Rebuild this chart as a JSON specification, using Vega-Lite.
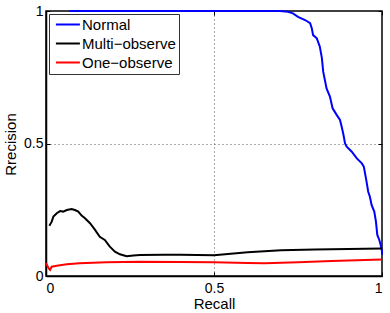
{
  "$schema": "https://vega.github.io/schema/vega-lite/v6.json",
  "autosize": "none",
  "width": 336,
  "height": 265,
  "padding": {"left": 46, "top": 11, "right": 8, "bottom": 37},
  "background": "white",
  "config": {
    "font": "Liberation Sans",
    "view": {"stroke": "black", "strokeWidth": 1.5},
    "axis": {"labelFont": "Liberation Sans", "titleFont": "Liberation Sans", "labelColor": "black", "titleColor": "black", "titleFontWeight": "normal", "domainColor": "black", "tickColor": "black"}
  },
  "data": {"values": [
    {"s":"Normal","i":0,"r":0.07,"p":1},{"s":"Normal","i":1,"r":0.696,"p":1},{"s":"Normal","i":2,"r":0.72,"p":0.997},{"s":"Normal","i":3,"r":0.735,"p":0.991},{"s":"Normal","i":4,"r":0.75,"p":0.978},{"s":"Normal","i":5,"r":0.771,"p":0.966},{"s":"Normal","i":6,"r":0.786,"p":0.954},{"s":"Normal","i":7,"r":0.791,"p":0.935},{"s":"Normal","i":8,"r":0.795,"p":0.909},{"s":"Normal","i":9,"r":0.806,"p":0.897},{"s":"Normal","i":10,"r":0.815,"p":0.865},{"s":"Normal","i":11,"r":0.821,"p":0.823},{"s":"Normal","i":12,"r":0.825,"p":0.771},{"s":"Normal","i":13,"r":0.835,"p":0.708},{"s":"Normal","i":14,"r":0.845,"p":0.677},{"s":"Normal","i":15,"r":0.853,"p":0.633},{"s":"Normal","i":16,"r":0.865,"p":0.608},{"s":"Normal","i":17,"r":0.875,"p":0.589},{"s":"Normal","i":18,"r":0.88,"p":0.563},{"s":"Normal","i":19,"r":0.885,"p":0.535},{"s":"Normal","i":20,"r":0.89,"p":0.5},{"s":"Normal","i":21,"r":0.895,"p":0.488},{"s":"Normal","i":22,"r":0.91,"p":0.469},{"s":"Normal","i":23,"r":0.925,"p":0.444},{"s":"Normal","i":24,"r":0.94,"p":0.425},{"s":"Normal","i":25,"r":0.946,"p":0.412},{"s":"Normal","i":26,"r":0.954,"p":0.356},{"s":"Normal","i":27,"r":0.959,"p":0.318},{"s":"Normal","i":28,"r":0.964,"p":0.299},{"s":"Normal","i":29,"r":0.969,"p":0.268},{"s":"Normal","i":30,"r":0.977,"p":0.243},{"s":"Normal","i":31,"r":0.982,"p":0.205},{"s":"Normal","i":32,"r":0.986,"p":0.155},{"s":"Normal","i":33,"r":0.992,"p":0.136},{"s":"Normal","i":34,"r":0.996,"p":0.117},{"s":"Normal","i":35,"r":1.0,"p":0.092},{"s":"Normal","i":36,"r":1.0,"p":0.08},
    {"s":"Multi−observe","i":0,"r":0.01,"p":0.19},{"s":"Multi−observe","i":1,"r":0.017,"p":0.205},{"s":"Multi−observe","i":2,"r":0.022,"p":0.224},{"s":"Multi−observe","i":3,"r":0.032,"p":0.237},{"s":"Multi−observe","i":4,"r":0.042,"p":0.245},{"s":"Multi−observe","i":5,"r":0.051,"p":0.243},{"s":"Multi−observe","i":6,"r":0.062,"p":0.249},{"s":"Multi−observe","i":7,"r":0.076,"p":0.253},{"s":"Multi−observe","i":8,"r":0.086,"p":0.249},{"s":"Multi−observe","i":9,"r":0.096,"p":0.243},{"s":"Multi−observe","i":10,"r":0.106,"p":0.228},{"s":"Multi−observe","i":11,"r":0.116,"p":0.218},{"s":"Multi−observe","i":12,"r":0.131,"p":0.199},{"s":"Multi−observe","i":13,"r":0.146,"p":0.174},{"s":"Multi−observe","i":14,"r":0.16,"p":0.148},{"s":"Multi−observe","i":15,"r":0.175,"p":0.136},{"s":"Multi−observe","i":16,"r":0.19,"p":0.111},{"s":"Multi−observe","i":17,"r":0.205,"p":0.092},{"s":"Multi−observe","i":18,"r":0.22,"p":0.082},{"s":"Multi−observe","i":19,"r":0.24,"p":0.075},{"s":"Multi−observe","i":20,"r":0.26,"p":0.077},{"s":"Multi−observe","i":21,"r":0.28,"p":0.079},{"s":"Multi−observe","i":22,"r":0.35,"p":0.08},{"s":"Multi−observe","i":23,"r":0.4,"p":0.08},{"s":"Multi−observe","i":24,"r":0.5,"p":0.078},{"s":"Multi−observe","i":25,"r":0.6,"p":0.09},{"s":"Multi−observe","i":26,"r":0.7,"p":0.097},{"s":"Multi−observe","i":27,"r":0.8,"p":0.1},{"s":"Multi−observe","i":28,"r":0.9,"p":0.102},{"s":"Multi−observe","i":29,"r":1.0,"p":0.104},
    {"s":"One−observe","i":0,"r":0.0,"p":0.048},{"s":"One−observe","i":1,"r":0.007,"p":0.031},{"s":"One−observe","i":2,"r":0.012,"p":0.023},{"s":"One−observe","i":3,"r":0.017,"p":0.035},{"s":"One−observe","i":4,"r":0.032,"p":0.039},{"s":"One−observe","i":5,"r":0.062,"p":0.044},{"s":"One−observe","i":6,"r":0.1,"p":0.048},{"s":"One−observe","i":7,"r":0.18,"p":0.052},{"s":"One−observe","i":8,"r":0.28,"p":0.054},{"s":"One−observe","i":9,"r":0.4,"p":0.053},{"s":"One−observe","i":10,"r":0.5,"p":0.052},{"s":"One−observe","i":11,"r":0.6,"p":0.049},{"s":"One−observe","i":12,"r":0.65,"p":0.048},{"s":"One−observe","i":13,"r":0.75,"p":0.052},{"s":"One−observe","i":14,"r":0.85,"p":0.057},{"s":"One−observe","i":15,"r":1.0,"p":0.062}
  ]},
  "layer": [
    {
      "mark": {"type": "point", "opacity": 0},
      "encoding": {
        "x": {"field": "r", "type": "quantitative", "scale": {"domain": [0, 1], "nice": false}, "axis": {"orient": "top", "labels": false, "title": null, "grid": false, "domain": false, "tickSize": -4, "tickWidth": 1, "values": [0, 0.5, 1]}},
        "y": {"field": "p", "type": "quantitative", "scale": {"domain": [0, 1], "nice": false}, "axis": {"orient": "right", "labels": false, "title": null, "grid": false, "domain": false, "tickSize": -4, "tickWidth": 1, "values": [0, 0.5, 1]}}
      }
    },
    {
      "mark": {"type": "line", "strokeWidth": 2, "clip": false},
      "encoding": {
        "x": {"field": "r", "type": "quantitative", "scale": {"domain": [0, 1], "nice": false},
          "axis": {"orient": "bottom", "title": "Recall", "values": [0, 0.5, 1], "format": "~g", "labelFontSize": 14, "titleFontSize": 15, "tickSize": -4, "tickWidth": 1, "labelPadding": 9, "domainWidth": 1.5,
            "grid": true, "gridColor": "#555", "gridDash": [1, 3], "gridWidth": 1, "gridOpacity": {"condition": {"test": "datum.value === 0.5", "value": 1}, "value": 0},
            "titleY": 20}},
        "y": {"field": "p", "type": "quantitative", "scale": {"domain": [0, 1], "nice": false},
          "axis": {"orient": "left", "title": "Rrecision", "values": [0, 0.5, 1], "format": "~g", "labelFontSize": 14, "titleFontSize": 15, "tickSize": -4, "tickWidth": 1, "labelPadding": 7, "domainWidth": 1.5,
            "grid": true, "gridColor": "#555", "gridDash": [1, 3], "gridWidth": 1, "gridOpacity": {"condition": {"test": "datum.value === 0.5", "value": 1}, "value": 0},
            "titleX": -28, "titleY": 133}},
        "color": {"field": "s", "type": "nominal",
          "scale": {"domain": ["Normal", "Multi−observe", "One−observe"], "range": ["#0000ff", "#000000", "#ff0000"]},
          "legend": {"orient": "none", "legendX": 3, "legendY": 3, "title": null, "symbolType": "M-0.6,0H3.4", "symbolSize": 144, "symbolStrokeWidth": 2, "labelFontSize": 15, "labelFont": "Liberation Sans", "labelColor": "black", "labelOffset": 15, "padding": 3, "rowPadding": 3, "strokeColor": "#333", "fillColor": "white"}},
        "order": {"field": "i", "type": "quantitative"}
      }
    }
  ],
  "resolve": {"axis": {"x": "independent", "y": "independent"}}
}
